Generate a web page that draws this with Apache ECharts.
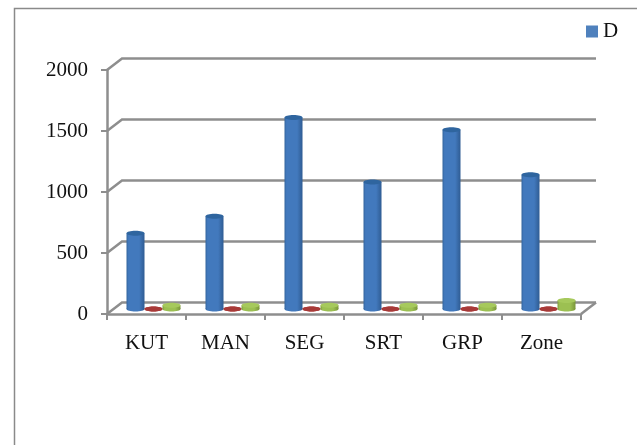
<!DOCTYPE html>
<html>
<head>
<meta charset="utf-8">
<style>
  html, body { margin: 0; padding: 0; background: #fff; }
  #chart { width: 637px; height: 445px; }
</style>
<script src="https://cdn.jsdelivr.net/npm/echarts@6/dist/echarts.min.js"></script>
</head>
<body>
<div id="chart"></div>
<script>
var categories = ['KUT', 'MAN', 'SEG', 'SRT', 'GRP', 'Zone'];
var seriesD = [620, 760, 1570, 1040, 1470, 1100];
var seriesE = [1, 1, 1, 1, 1, 1];
var seriesF = [30, 30, 30, 30, 30, 70];
var yTicks = [0, 500, 1000, 1500, 2000];

var lineColor = '#8e8e8e';
var fontName = '"Liberation Serif", serif';
// fake 3d depth of the walls, in px
var depthX = 15, depthY = 11.5;

// grey wall lines + floor edge
function renderWall(params, api) {
  var sys = params.coordSys;
  var y = api.coord([0, api.value(1)])[1];
  var left = sys.x, right = sys.x + sys.width;
  var children = [{
    type: 'polyline',
    shape: { points: [[left, y], [left + depthX, y - depthY], [right + depthX, y - depthY]] },
    style: { stroke: lineColor, lineWidth: 2.5, fill: null }
  }];
  if (api.value(1) === 0) {
    children.push({
      type: 'line',
      shape: { x1: right, y1: y, x2: right + depthX, y2: y - depthY },
      style: { stroke: lineColor, lineWidth: 2.5 }
    });
  }
  return { type: 'group', children: children };
}

// cylinder drawn from the category and value scales
function cylinder(offset, width, colors, topColor) {
  return function (params, api) {
    var top = api.coord([api.value(0), api.value(1)]);
    var base = api.coord([api.value(0), 0]);
    var cx = top[0] + offset;
    var topY = top[1] - 5;
    var baseY = base[1] - 5;
    var r = width / 2;
    var fill = new echarts.graphic.LinearGradient(0, 0, 1, 0, [
      { offset: 0, color: colors[0] },
      { offset: 0.12, color: colors[1] },
      { offset: 0.7, color: colors[1] },
      { offset: 1, color: colors[2] }
    ]);
    return {
      type: 'group',
      children: [{
        type: 'ellipse',
        shape: { cx: cx, cy: baseY, rx: r, ry: 2.5 },
        style: { fill: fill }
      }, {
        type: 'rect',
        shape: { x: cx - r, y: topY, width: width, height: baseY - topY },
        style: { fill: fill }
      }, {
        type: 'ellipse',
        shape: { cx: cx, cy: topY, rx: r, ry: 2.5 },
        style: { fill: topColor }
      }]
    };
  };
}

function toData(values) {
  return values.map(function (v, i) { return [i, v]; });
}

var chart = echarts.init(document.getElementById('chart'));
chart.setOption({
  animation: false,
  backgroundColor: '#fff',
  textStyle: { fontFamily: fontName },
  graphic: [{
    type: 'polyline',
    shape: { points: [[14.5, 445], [14.5, 8.5], [637, 8.5]] },
    style: { stroke: '#8a8a8a', lineWidth: 1.5, fill: null }
  }],
  legend: {
    data: ['D'],
    left: 581,
    top: 16,
    icon: 'rect',
    itemWidth: 12,
    itemHeight: 12,
    itemGap: 5,
    textStyle: { fontFamily: fontName, fontSize: 21, color: '#111' }
  },
  grid: { left: 107, top: 70, width: 474, height: 244 },
  xAxis: {
    type: 'category',
    data: categories,
    axisLine: { lineStyle: { color: lineColor, width: 2.5 } },
    axisTick: { show: true, length: 6, lineStyle: { color: lineColor, width: 2 } },
    axisLabel: { color: '#111', fontFamily: fontName, fontSize: 21, margin: 19 }
  },
  yAxis: {
    type: 'value',
    min: 0,
    max: 2000,
    interval: 500,
    splitLine: { show: false },
    axisLine: { show: true, lineStyle: { color: lineColor, width: 2.5 } },
    axisTick: { show: true, length: 6, lineStyle: { color: lineColor, width: 2 } },
    axisLabel: {
      color: '#111',
      fontFamily: fontName,
      fontSize: 21,
      margin: 19,
      formatter: function (v) { return String(v); }
    }
  },
  series: [{
    name: 'walls',
    type: 'custom',
    renderItem: renderWall,
    data: yTicks.map(function (v) { return [0, v]; }),
    z: 1,
    silent: true
  }, {
    name: 'D',
    type: 'custom',
    renderItem: cylinder(-11, 18, ['#34659e', '#4279bd', '#2f5c93'], '#2f659f'),
    itemStyle: { color: '#4f81bd' },
    data: toData(seriesD),
    z: 3
  }, {
    name: 'E',
    type: 'custom',
    renderItem: cylinder(7, 18, ['#8f2f2d', '#b23f3c', '#8f2f2d'], '#a83a38'),
    itemStyle: { color: '#c0504d' },
    data: toData(seriesE),
    z: 3
  }, {
    name: 'F',
    type: 'custom',
    renderItem: cylinder(25, 18, ['#7f9c3c', '#9cc052', '#7a963a'], '#a6c95c'),
    itemStyle: { color: '#9bbb59' },
    data: toData(seriesF),
    z: 3
  }]
});
</script>
</body>
</html>
